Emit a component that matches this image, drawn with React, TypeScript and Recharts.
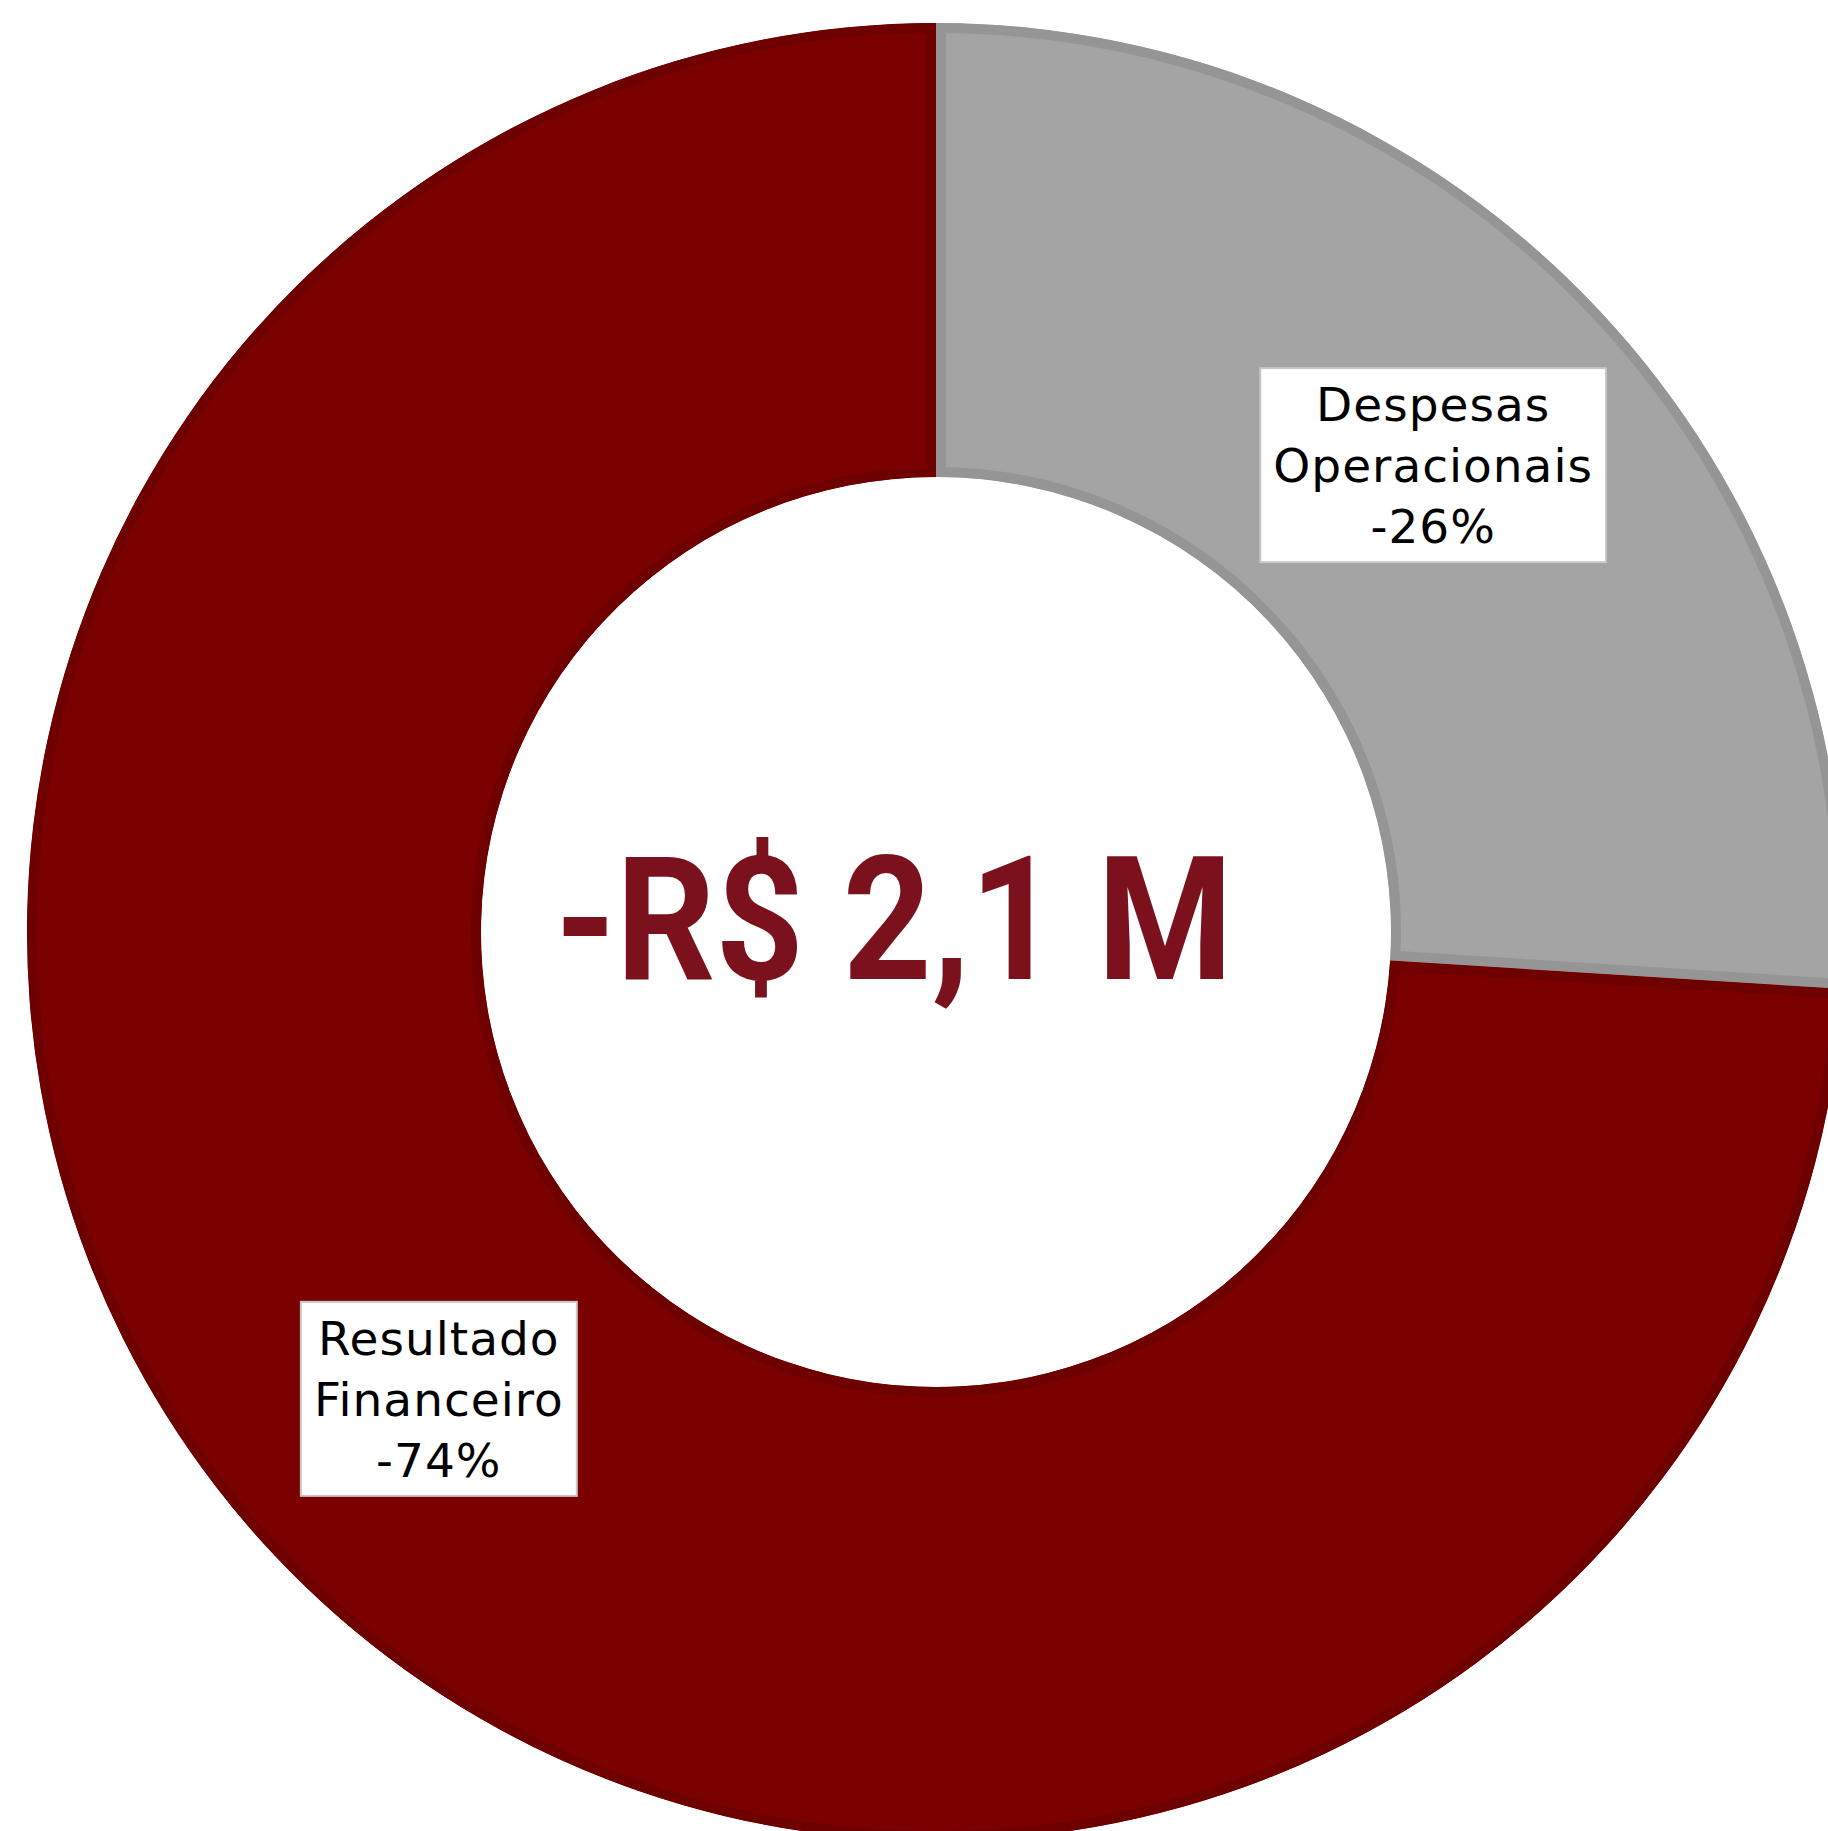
import React from 'react';
import { PieChart, Pie, Cell, Sector } from 'recharts';

// Composition of the result
const categories = ['Despesas Operacionais', 'Resultado Financeiro'];
const shares = [26, 74];
const fills = ['#a4a4a4', '#7b0000'];
const strokes = ['#959595', '#6f0000'];
const totalLabel = '-R$ 2,1 M';

const data = categories.map((name, i) => ({ name, value: shares[i] }));

const W = 1828;
const H = 1831;
const CX = 936;
const CY = 932;
const OUTER = 909;
const INNER = 455;

const LABEL_FONT = '"DejaVu Sans", sans-serif';
const LABEL_SIZE = 47;
const LABEL_SPACING = 1;
const LINE_H = 61;

let ctx: CanvasRenderingContext2D | null = null;
const measure = (text: string) => {
  if (!ctx) ctx = document.createElement('canvas').getContext('2d');
  if (!ctx) return text.length * LABEL_SIZE * 0.6;
  ctx.font = `${LABEL_SIZE}px ${LABEL_FONT}`;
  return ctx.measureText(text).width + text.length * LABEL_SPACING;
};

// sector with the stroke drawn only on the inside
const InsetSector = (props: any) => {
  const geom = {
    cx: props.cx,
    cy: props.cy,
    innerRadius: props.innerRadius,
    outerRadius: props.outerRadius,
    startAngle: props.startAngle,
    endAngle: props.endAngle,
  };
  const id = `clip-${String(props.name || props.payload?.name).replace(/\s+/g, '-')}`;
  return (
    <g>
      <defs>
        <clipPath id={id}>
          <Sector {...geom} />
        </clipPath>
      </defs>
      <Sector {...geom} fill={props.fill} stroke={props.stroke} strokeWidth={20} clipPath={`url(#${id})`} />
    </g>
  );
};

const renderLabel = (props: any) => {
  const { cx, cy, midAngle, innerRadius, outerRadius, name, value } = props;
  const RAD = Math.PI / 180;
  const r = (innerRadius + outerRadius) / 2;
  const x = cx + r * Math.cos(-midAngle * RAD);
  const y = cy + r * Math.sin(-midAngle * RAD);
  const words = String(name).split(' ');
  const lines = [...words, `-${value}%`];
  const w = Math.max(...lines.map(measure)) + 26;
  const h = lines.length * LINE_H + 11;
  return (
    <g>
      <rect x={x - w / 2} y={y - h / 2} width={w} height={h} fill="#ffffff" stroke="#c8c8c8" strokeWidth={2} />
      {lines.map((line, i) => (
        <text
          key={i}
          x={x}
          y={y + (i - (lines.length - 1) / 2) * LINE_H + 17}
          textAnchor="middle"
          fontFamily={LABEL_FONT}
          fontSize={LABEL_SIZE}
          letterSpacing={LABEL_SPACING}
          fill="#000000"
        >
          {line}
        </text>
      ))}
    </g>
  );
};

export default function App() {
  return (
    <div style={{ position: 'absolute', left: 0, top: 0, width: W, height: H, overflow: 'hidden', background: '#fff' }}>
      <PieChart width={W} height={H} margin={{ top: 0, right: 0, bottom: 0, left: 0 }}>
        <Pie
          data={data}
          dataKey="value"
          nameKey="name"
          cx={CX}
          cy={CY}
          innerRadius={INNER}
          outerRadius={OUTER}
          startAngle={90}
          endAngle={-270}
          isAnimationActive={false}
          shape={InsetSector}
          label={renderLabel}
          labelLine={false}
        >
          {data.map((d, i) => (
            <Cell key={d.name} fill={fills[i]} stroke={strokes[i]} />
          ))}
        </Pie>
        <text
          x={894}
          y={979}
          textAnchor="middle"
          fontFamily="Roboto, sans-serif"
          fontWeight="bold"
          fontSize={172}
          textLength={678}
          lengthAdjust="spacingAndGlyphs"
          fill="#7b111c"
        >
          {totalLabel}
        </text>
      </PieChart>
    </div>
  );
}
